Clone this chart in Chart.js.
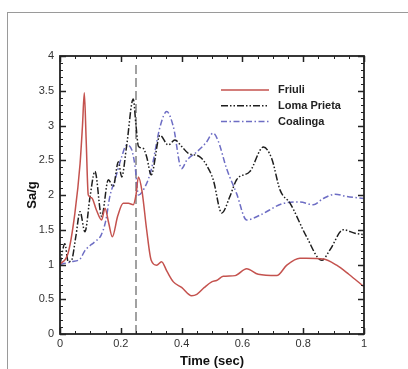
<!DOCTYPE html>
<html>
<head>
<meta charset="utf-8">
<script src="https://cdn.jsdelivr.net/npm/chart.js@4.4.0/dist/chart.umd.min.js"></script>
<style>
  html, body { margin: 0; padding: 0; background: #fff; }
  #wrap { width: 408px; height: 369px; }
</style>
</head>
<body>
<div id="wrap"><canvas id="spectraChart" width="408" height="369"></canvas></div>
<script>
// spectral acceleration vs period
const friuliTime = [0, 0.027, 0.049, 0.066, 0.074, 0.080, 0.086, 0.093, 0.104, 0.12, 0.137, 0.148, 0.16, 0.172, 0.19, 0.208, 0.225, 0.241, 0.25, 0.258, 0.27, 0.285, 0.30, 0.318, 0.334, 0.352, 0.373, 0.40, 0.433, 0.45, 0.475, 0.499, 0.515, 0.537, 0.576, 0.614, 0.652, 0.713, 0.746, 0.789, 0.81, 0.866, 0.91, 0.95, 1.0];
const friuliSa = [1.0, 1.17, 1.74, 2.45, 3.0, 3.47, 2.8, 2.0, 1.96, 1.78, 1.64, 1.81, 1.6, 1.40, 1.70, 1.88, 1.88, 1.86, 2.0, 2.26, 2.05, 1.5, 1.06, 0.99, 1.04, 0.90, 0.75, 0.67, 0.55, 0.57, 0.67, 0.75, 0.77, 0.83, 0.84, 0.94, 0.86, 0.84, 0.99, 1.09, 1.09, 1.08, 0.99, 0.86, 0.68];

const lomaTime = [0, 0.016, 0.027, 0.038, 0.052, 0.066, 0.082, 0.099, 0.115, 0.137, 0.159, 0.175, 0.192, 0.203, 0.219, 0.241, 0.25, 0.258, 0.274, 0.285, 0.30, 0.329, 0.356, 0.378, 0.40, 0.422, 0.46, 0.482, 0.504, 0.532, 0.559, 0.581, 0.625, 0.669, 0.696, 0.724, 0.757, 0.811, 0.861, 0.888, 0.932, 0.970, 1.0];
const lomaSa = [1.0, 1.30, 1.04, 1.06, 1.4, 1.76, 1.47, 1.98, 2.34, 1.69, 2.22, 2.12, 2.48, 2.26, 2.70, 3.38, 3.0, 2.70, 2.67, 2.55, 2.29, 2.86, 2.72, 2.79, 2.70, 2.60, 2.55, 2.43, 2.22, 1.74, 1.98, 2.22, 2.34, 2.69, 2.53, 2.07, 1.88, 1.40, 1.06, 1.21, 1.50, 1.45, 1.43];

const coalingaTime = [0, 0.038, 0.066, 0.082, 0.115, 0.135, 0.15, 0.164, 0.181, 0.203, 0.219, 0.236, 0.247, 0.258, 0.28, 0.30, 0.329, 0.351, 0.373, 0.40, 0.417, 0.45, 0.48, 0.504, 0.521, 0.548, 0.581, 0.614, 0.658, 0.735, 0.789, 0.833, 0.866, 0.905, 0.943, 1.0];
const coalingaSa = [1.0, 1.04, 1.08, 1.2, 1.33, 1.42, 1.62, 1.98, 2.22, 2.55, 2.72, 2.65, 2.41, 2.0, 2.12, 2.36, 2.98, 3.20, 2.98, 2.38, 2.50, 2.62, 2.75, 2.89, 2.77, 2.38, 2.02, 1.64, 1.71, 1.88, 1.90, 1.86, 1.95, 2.01, 1.98, 1.95];

// vertical marker at T = 0.25 s
const markerTime = [0.25, 0.25];
const markerSa = [0, 3.88];

const seriesNames = ["Friuli", "Loma Prieta", "Coalinga"];

function toPoints(xs, ys) {
  return xs.map(function (x, i) { return { x: x, y: ys[i] }; });
}

// outer frame, box around the plot, inward ticks on all sides
const frameAndTicks = {
  id: "frameAndTicks",
  beforeDraw(chart) {
    const ctx = chart.ctx;
    ctx.save();
    ctx.strokeStyle = "#9a9a9a";
    ctx.lineWidth = 1;
    ctx.strokeRect(7.5, 12.5, 440, 400);
    ctx.restore();
  },
  afterDatasetsDraw(chart) {
    const ctx = chart.ctx;
    const a = chart.chartArea;
    const x = chart.scales.x;
    const y = chart.scales.y;
    ctx.save();
    ctx.strokeStyle = "#222";
    for (let i = 0; i <= 20; i++) {
      const px = Math.round(x.getPixelForValue(i * 0.05)) + 0.5;
      const major = i % 4 === 0;
      const len = major ? 6 : 3;
      ctx.lineWidth = major ? 1.5 : 1;
      ctx.beginPath();
      ctx.moveTo(px, a.bottom); ctx.lineTo(px, a.bottom - len);
      ctx.moveTo(px, a.top); ctx.lineTo(px, a.top + len);
      ctx.stroke();
    }
    for (let i = 0; i <= 40; i++) {
      const py = Math.round(y.getPixelForValue(i * 0.1)) + 0.5;
      const major = i % 5 === 0;
      const len = major ? 6 : 3;
      ctx.lineWidth = major ? 1.5 : 1;
      ctx.beginPath();
      ctx.moveTo(a.left, py); ctx.lineTo(a.left + len, py);
      ctx.moveTo(a.right, py); ctx.lineTo(a.right - len, py);
      ctx.stroke();
    }
    ctx.lineWidth = 1.8;
    ctx.strokeRect(a.left, a.top, a.right - a.left, a.bottom - a.top);
    ctx.restore();
  },
  afterDraw(chart) {
    // legend inside the plot, top right
    const ctx = chart.ctx;
    ctx.save();
    ctx.font = "bold 11px 'Liberation Sans', Arial, sans-serif";
    ctx.textBaseline = "middle";
    ctx.fillStyle = "#222";
    for (let i = 0; i < 3; i++) {
      const ds = chart.data.datasets[i];
      const ly = 90 + i * 15.8;
      ctx.strokeStyle = ds.borderColor;
      ctx.lineWidth = ds.borderWidth;
      ctx.setLineDash(ds.borderDash || []);
      ctx.beginPath();
      ctx.moveTo(221, ly);
      ctx.lineTo(269, ly);
      ctx.stroke();
      ctx.fillText(ds.label, 278, ly);
    }
    ctx.restore();
  }
};

const lineStyle = {
  pointRadius: 0,
  borderWidth: 1.5,
  fill: false,
  cubicInterpolationMode: "monotone"
};

new Chart(document.getElementById("spectraChart"), {
  type: "line",
  data: {
    datasets: [
      Object.assign({
        label: seriesNames[0],
        data: toPoints(friuliTime, friuliSa),
        borderColor: "#c4524e"
      }, lineStyle),
      Object.assign({
        label: seriesNames[1],
        data: toPoints(lomaTime, lomaSa),
        borderColor: "#1e1e1e",
        borderDash: [7, 2, 1.5, 2, 1.5, 2]
      }, lineStyle),
      Object.assign({
        label: seriesNames[2],
        data: toPoints(coalingaTime, coalingaSa),
        borderColor: "#6d6dc4",
        borderDash: [6, 2.5, 1.5, 2.5]
      }, lineStyle),
      {
        label: "marker",
        data: toPoints(markerTime, markerSa),
        borderColor: "#8a8a8a",
        borderWidth: 1.6,
        borderDash: [9, 4],
        pointRadius: 0,
        tension: 0
      }
    ]
  },
  options: {
    responsive: false,
    animation: false,
    layout: { padding: { left: 10, top: 56, right: 44, bottom: 0 } },
    plugins: {
      legend: { display: false },
      tooltip: { enabled: false }
    },
    scales: {
      x: {
        type: "linear",
        min: 0,
        max: 1,
        grid: { display: false, drawTicks: false },
        border: { display: false },
        afterFit: function (scale) { scale.height = 35; },
        ticks: {
          stepSize: 0.2,
          padding: 3,
          color: "#333",
          font: { family: "'Liberation Sans', Arial, sans-serif", size: 11 },
          callback: function (v) { return String(+v.toFixed(1)); }
        },
        title: {
          display: true,
          text: "Time (sec)",
          color: "#111",
          padding: { top: 4, bottom: 0 },
          font: { family: "'Liberation Sans', Arial, sans-serif", size: 13, weight: "bold" }
        }
      },
      y: {
        min: 0,
        max: 4,
        grid: { display: false, drawTicks: false },
        border: { display: false },
        afterFit: function (scale) { scale.width = 50; },
        ticks: {
          stepSize: 0.5,
          padding: 6,
          color: "#333",
          font: { family: "'Liberation Sans', Arial, sans-serif", size: 11 },
          callback: function (v) { return String(+v.toFixed(1)); }
        },
        title: {
          display: true,
          text: "Sa/g",
          color: "#111",
          padding: { top: 15, bottom: 0 },
          font: { family: "'Liberation Sans', Arial, sans-serif", size: 13, weight: "bold" }
        }
      }
    }
  },
  plugins: [frameAndTicks]
});
</script>
</body>
</html>
